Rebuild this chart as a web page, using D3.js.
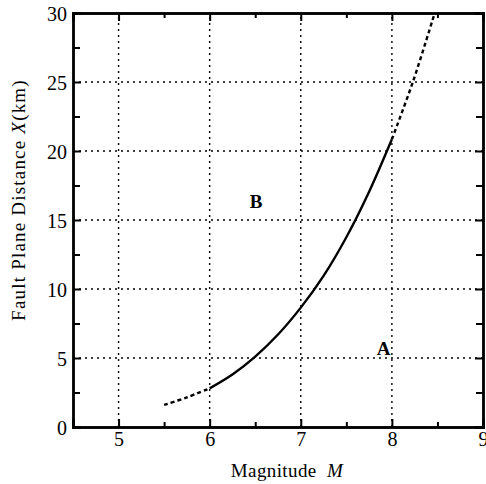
<!DOCTYPE html>
<html><head><meta charset="utf-8">
<script src="https://cdn.jsdelivr.net/npm/d3@7"></script>
<style>body{margin:0;background:#fff}svg{display:block}</style>
</head><body>
<script>
const solidM = [6.0, 6.25, 6.5, 6.75, 7.0, 7.25, 7.5, 7.75, 8.0];
const solidX = [2.8, 3.8, 5.1, 6.7, 8.65, 10.95, 13.75, 17.05, 20.85];
const dashLowM = [5.5, 5.75, 6.0];
const dashLowX = [1.6, 2.15, 2.8];
const dashHighM = [8.0, 8.23, 8.47];
const dashHighX = [20.85, 25.0, 30.0];
const xTicks = [5, 6, 7, 8, 9];
const yTicks = [0, 5, 10, 15, 20, 25, 30];
const xMinor = [4.5, 5.5, 6.5, 7.5, 8.5];
const yMinor = [2.5, 7.5, 12.5, 17.5, 22.5, 27.5];
const regionLabels = [{t:"B", m:6.51, x:15.9}, {t:"A", m:7.91, x:5.2}];

const W = 486, H = 484;
const L = 73, R = 483, T = 13, B = 427;
const svg = d3.select("body").append("svg").attr("width", W).attr("height", H);
const x = d3.scaleLinear().domain([4.5, 9]).range([L, R]);
const y = d3.scaleLinear().domain([0, 30]).range([B, T]);
const serif = "'Liberation Serif', 'Times New Roman', serif";

// grid
const g = svg.append("g").attr("stroke", "#000").attr("stroke-width", 1.4).attr("stroke-dasharray", "2,4");
xTicks.filter(d => d > 4.5 && d < 9).forEach(d => g.append("line").attr("x1", x(d)).attr("x2", x(d)).attr("y1", B).attr("y2", T));
yTicks.filter(d => d > 0 && d < 30).forEach(d => g.append("line").attr("x1", L).attr("x2", R).attr("y1", y(d)).attr("y2", y(d)));

// axes
const axB = d3.axisBottom(x).tickValues(xTicks).tickSize(-8).tickPadding(5).tickFormat(d3.format("d"));
const axL = d3.axisLeft(y).tickValues(yTicks).tickSize(-8).tickPadding(6).tickFormat(d3.format("d"));
const gb = svg.append("g").attr("transform", `translate(0,${B})`).call(axB);
const gl = svg.append("g").attr("transform", `translate(${L},0)`).call(axL);
const gt = svg.append("g").attr("transform", `translate(0,${T})`).call(d3.axisTop(x).tickValues(xTicks).tickSize(-8).tickFormat(""));
const gr = svg.append("g").attr("transform", `translate(${R},0)`).call(d3.axisRight(y).tickValues(yTicks).tickSize(-8).tickFormat(""));
const mb = svg.append("g").attr("transform", `translate(0,${B})`).call(d3.axisBottom(x).tickValues(xMinor).tickSize(-5).tickFormat(""));
const mt = svg.append("g").attr("transform", `translate(0,${T})`).call(d3.axisTop(x).tickValues(xMinor).tickSize(-5).tickFormat(""));
const ml = svg.append("g").attr("transform", `translate(${L},0)`).call(d3.axisLeft(y).tickValues(yMinor).tickSize(-7).tickFormat(""));
const mr = svg.append("g").attr("transform", `translate(${R},0)`).call(d3.axisRight(y).tickValues(yMinor).tickSize(-7).tickFormat(""));
[gb, gl, gt, gr, mb, mt, ml, mr].forEach(a => {
  a.selectAll("path").attr("stroke", "#000").attr("stroke-width", 2.4);
  a.selectAll("line").attr("stroke", "#000").attr("stroke-width", 2);
  a.selectAll("text").attr("font-family", serif).attr("font-size", 20).attr("fill", "#000");
});
gb.selectAll("text").attr("dy", "0.71em");
gl.selectAll("text").attr("dy", "0.35em");

// curves
const line = d3.line().x(d => x(d[0])).y(d => y(d[1])).curve(d3.curveCatmullRom);
svg.append("path").datum(d3.zip(solidM, solidX)).attr("d", line)
  .attr("fill", "none").attr("stroke", "#000").attr("stroke-width", 2.4);
svg.append("path").datum(d3.zip(dashLowM, dashLowX)).attr("d", line)
  .attr("fill", "none").attr("stroke", "#000").attr("stroke-width", 2.4).attr("stroke-dasharray", "4,3");
svg.append("path").datum(d3.zip(dashHighM, dashHighX)).attr("d", line)
  .attr("fill", "none").attr("stroke", "#000").attr("stroke-width", 2.4).attr("stroke-dasharray", "4,3");

// region labels
regionLabels.forEach(r => svg.append("text").attr("x", x(r.m)).attr("y", y(r.x)).attr("text-anchor", "middle")
  .attr("font-family", serif).attr("font-size", 19).attr("font-weight", "bold").text(r.t));

// axis titles
const xt = svg.append("text").attr("x", 287).attr("y", 477).attr("text-anchor", "middle")
  .attr("font-family", serif).attr("font-size", 19).attr("letter-spacing", 0.4);
xt.append("tspan").text("Magnitude\u00a0\u00a0");
xt.append("tspan").attr("font-style", "italic").text("M");
const yt = svg.append("text").attr("transform", "translate(25,200) rotate(-90)").attr("text-anchor", "middle")
  .attr("font-family", serif).attr("font-size", 19).attr("letter-spacing", 1.2);
yt.append("tspan").text("Fault Plane Distance ");
yt.append("tspan").attr("font-style", "italic").text("X");
yt.append("tspan").text("(km)");
</script>
</body></html>
